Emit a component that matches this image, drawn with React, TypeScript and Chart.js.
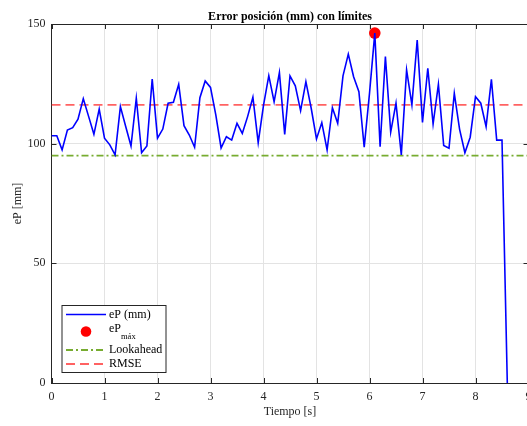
import React, { useEffect, useRef } from "react";
import { Chart, registerables } from "chart.js";

Chart.register(...registerables);

const timeS = [
  0, 0.1, 0.2, 0.3, 0.4, 0.5, 0.6, 0.7, 0.8, 0.9,
  1.0, 1.1, 1.2, 1.3, 1.4, 1.5, 1.6, 1.7, 1.8, 1.9,
  2.0, 2.1, 2.2, 2.3, 2.4, 2.5, 2.6, 2.7, 2.8, 2.9,
  3.0, 3.1, 3.2, 3.3, 3.4, 3.5, 3.6, 3.7, 3.8, 3.9,
  4.0, 4.1, 4.2, 4.3, 4.4, 4.5, 4.6, 4.7, 4.8, 4.9,
  5.0, 5.1, 5.2, 5.3, 5.4, 5.5, 5.6, 5.7, 5.8, 5.9,
  6.0, 6.1, 6.2, 6.3, 6.4, 6.5, 6.6, 6.7, 6.8, 6.9,
  7.0, 7.1, 7.2, 7.3, 7.4, 7.5, 7.6, 7.7, 7.8, 7.9,
  8.0, 8.1, 8.2, 8.3, 8.4, 8.5, 8.6,
];

const ePmm = [
  103.3, 103.3, 97.4, 105.7, 106.7, 110.2, 118.8, 111.4, 103.9, 114.4,
  102.3, 99.5, 95.3, 115.5, 107.2, 99.0, 119.0, 96.2, 99.0, 127.0,
  102.3, 106.1, 116.9, 117.3, 124.8, 107.5, 103.6, 98.5, 119.2, 126.2,
  123.5, 112.0, 98.2, 102.9, 101.5, 108.5, 104.3, 111.3, 119.4, 100.4,
  116.0, 128.4, 117.5, 129.7, 103.9, 128.3, 124.2, 113.8, 125.9, 114.8,
  102.0, 108.8, 97.4, 115.0, 108.5, 128.3, 137.4, 128.0, 121.7, 98.5,
  121.0, 146.2, 98.7, 136.4, 104.8, 116.9, 95.3, 130.8, 116.2, 143.3,
  108.9, 131.5, 108.2, 124.8, 99.2, 98.1, 121.0, 106.0, 96.2, 102.7,
  119.6, 116.9, 107.1, 126.9, 101.5, 101.5, 0,
];

const maxPoint = { t: 6.1, v: 146.2 };
const lookaheadMm = 95;
const rmseMm = 116.2;
const xRange = [0, 9];
const xTicks = [0, 1, 2, 3, 4, 5, 6, 7, 8, 9];
const yTicks = [0, 50, 100, 150];

const titleText = "Error posición (mm) con límites";
const xLabel = "Tiempo [s]";
const yLabel = "eP [mm]";
const legendLabels = ["eP (mm)", "eP", "máx", "Lookahead", "RMSE"];

const FONT = "'Liberation Serif', 'Times New Roman', serif";
const AXIS = "#262626";
const BLUE = "#0000ff";
const RED_DOT = "#ff0000";
const GREEN = "#77ac30";
const RED_DASH = "rgba(255,70,70,0.85)";
const GREEN_DASH = [7, 3, 2, 3];
const RED_DASH_PAT = [9, 5];

const CW = 560;
const CH = 426;

export default function App() {
  const ref = useRef<HTMLCanvasElement | null>(null);

  useEffect(() => {
    const canvas = ref.current;
    if (!canvas) return;

    const decor = {
      id: "matlabDecor",
      afterDraw(chart: any) {
        const { ctx, chartArea } = chart;
        const xs = chart.scales.x;
        const ys = chart.scales.y;
        const { left, right, top, bottom } = chartArea;
        ctx.save();
        // box
        ctx.strokeStyle = AXIS;
        ctx.lineWidth = 1;
        ctx.setLineDash([]);
        ctx.beginPath();
        ctx.moveTo(left, top + 0.5);
        ctx.lineTo(right, top + 0.5);
        ctx.moveTo(right - 0.5, top);
        ctx.lineTo(right - 0.5, bottom);
        ctx.stroke();
        // inside ticks
        ctx.beginPath();
        xTicks.forEach((t) => {
          const px = Math.round(xs.getPixelForValue(t)) + 0.5;
          ctx.moveTo(px, bottom);
          ctx.lineTo(px, bottom - 5);
          ctx.moveTo(px, top);
          ctx.lineTo(px, top + 5);
        });
        yTicks.forEach((v) => {
          const py = Math.round(ys.getPixelForValue(v)) + 0.5;
          ctx.moveTo(left, py);
          ctx.lineTo(left + 5, py);
          ctx.moveTo(right, py);
          ctx.lineTo(right - 5, py);
        });
        ctx.stroke();

        // titles
        ctx.fillStyle = "#000";
        ctx.textAlign = "center";
        ctx.textBaseline = "alphabetic";
        ctx.font = `bold 12px ${FONT}`;
        ctx.fillText(titleText, (left + right) / 2, 19.5);
        ctx.font = `12px ${FONT}`;
        ctx.fillStyle = AXIS;
        ctx.fillText(xLabel, (left + right) / 2, 415);
        ctx.save();
        ctx.translate(21, (top + bottom) / 2);
        ctx.rotate(-Math.PI / 2);
        ctx.fillText(yLabel, 0, 0);
        ctx.restore();

        // legend
        const bx = 61.5, by = 305, bw = 104, bh = 67;
        ctx.fillStyle = "#fff";
        ctx.fillRect(bx, by, bw, bh);
        ctx.strokeStyle = AXIS;
        ctx.lineWidth = 1;
        ctx.strokeRect(bx + 0.5, by + 0.5, bw, bh);
        const lx0 = 66, lx1 = 106, tx = 109;
        const rows = [314.5, 331.5, 350, 364];
        // row 1
        ctx.strokeStyle = BLUE;
        ctx.lineWidth = 1.5;
        ctx.beginPath();
        ctx.moveTo(lx0, rows[0]);
        ctx.lineTo(lx1, rows[0]);
        ctx.stroke();
        // row 2 dot
        ctx.fillStyle = RED_DOT;
        ctx.beginPath();
        ctx.arc(86, rows[1], 5.3, 0, Math.PI * 2);
        ctx.fill();
        // row 3
        ctx.strokeStyle = GREEN;
        ctx.lineWidth = 1.8;
        ctx.setLineDash(GREEN_DASH);
        ctx.beginPath();
        ctx.moveTo(lx0, rows[2]);
        ctx.lineTo(lx1, rows[2]);
        ctx.stroke();
        // row 4
        ctx.strokeStyle = RED_DASH;
        ctx.setLineDash(RED_DASH_PAT);
        ctx.beginPath();
        ctx.moveTo(lx0, rows[3]);
        ctx.lineTo(lx1, rows[3]);
        ctx.stroke();
        ctx.setLineDash([]);

        ctx.fillStyle = "#000";
        ctx.textAlign = "left";
        ctx.textBaseline = "middle";
        ctx.font = `12px ${FONT}`;
        ctx.fillText(legendLabels[0], tx, rows[0]);
        ctx.fillText(legendLabels[1], tx, rows[1] - 3);
        const w = ctx.measureText(legendLabels[1]).width;
        ctx.font = `8.5px ${FONT}`;
        ctx.fillText(legendLabels[2], tx + w, rows[1] + 5);
        ctx.font = `12px ${FONT}`;
        ctx.fillText(legendLabels[3], tx, rows[2]);
        ctx.fillText(legendLabels[4], tx, rows[3]);
        ctx.restore();
      },
    };

    const chart = new Chart(canvas, {
      type: "line",
      data: {
        datasets: [
          {
            label: legendLabels[0],
            data: timeS.map((t, i) => ({ x: t, y: ePmm[i] })),
            borderColor: BLUE,
            borderWidth: 1.6,
            pointRadius: 0,
            tension: 0,
            fill: false,
          },
          {
            label: "máx",
            type: "scatter",
            data: [{ x: maxPoint.t, y: maxPoint.v }],
            backgroundColor: RED_DOT,
            borderColor: RED_DOT,
            pointRadius: 5.8,
            borderWidth: 0,
          } as any,
          {
            label: legendLabels[3],
            data: [
              { x: xRange[0], y: lookaheadMm },
              { x: xRange[1], y: lookaheadMm },
            ],
            borderColor: GREEN,
            borderWidth: 1.8,
            borderDash: GREEN_DASH,
            pointRadius: 0,
          },
          {
            label: legendLabels[4],
            data: [
              { x: xRange[0], y: rmseMm },
              { x: xRange[1], y: rmseMm },
            ],
            borderColor: RED_DASH,
            borderWidth: 1.8,
            borderDash: RED_DASH_PAT,
            pointRadius: 0,
          },
        ],
      },
      options: {
        animation: false,
        responsive: false,
        devicePixelRatio: 1,
        events: [],
        layout: { padding: { left: 0, top: 24, right: CW - 528.5, bottom: 0 } },
        plugins: {
          legend: { display: false },
          title: { display: false },
          tooltip: { enabled: false },
        },
        scales: {
          x: {
            type: "linear",
            min: xRange[0],
            max: xRange[1],
            afterFit: (s: any) => {
              s.height = CH - 383;
            },
            afterBuildTicks: (s: any) => {
              s.ticks = xTicks.map((v) => ({ value: v }));
            },
            ticks: {
              font: { family: FONT, size: 12 },
              color: AXIS,
              padding: 7,
              maxRotation: 0,
              autoSkip: false,
            },
            grid: { color: "#e3e3e3", drawTicks: false, lineWidth: 1 },
            border: { color: AXIS, width: 1 },
          },
          y: {
            type: "linear",
            min: 0,
            max: 150,
            afterFit: (s: any) => {
              s.width = 51.5;
            },
            afterBuildTicks: (s: any) => {
              s.ticks = yTicks.map((v) => ({ value: v }));
            },
            ticks: {
              font: { family: FONT, size: 12 },
              color: AXIS,
              padding: 6,
            },
            grid: { color: "#e3e3e3", drawTicks: false, lineWidth: 1 },
            border: { color: AXIS, width: 1 },
          },
        },
      },
      plugins: [decor],
    });

    return () => chart.destroy();
  }, []);

  return (
    <div
      style={{
        position: "fixed",
        left: 0,
        top: 0,
        width: 527,
        height: 426,
        overflow: "hidden",
        background: "#fff",
      }}
    >
      <canvas ref={ref} width={CW} height={CH} style={{ width: CW, height: CH, display: "block" }} />
    </div>
  );
}
